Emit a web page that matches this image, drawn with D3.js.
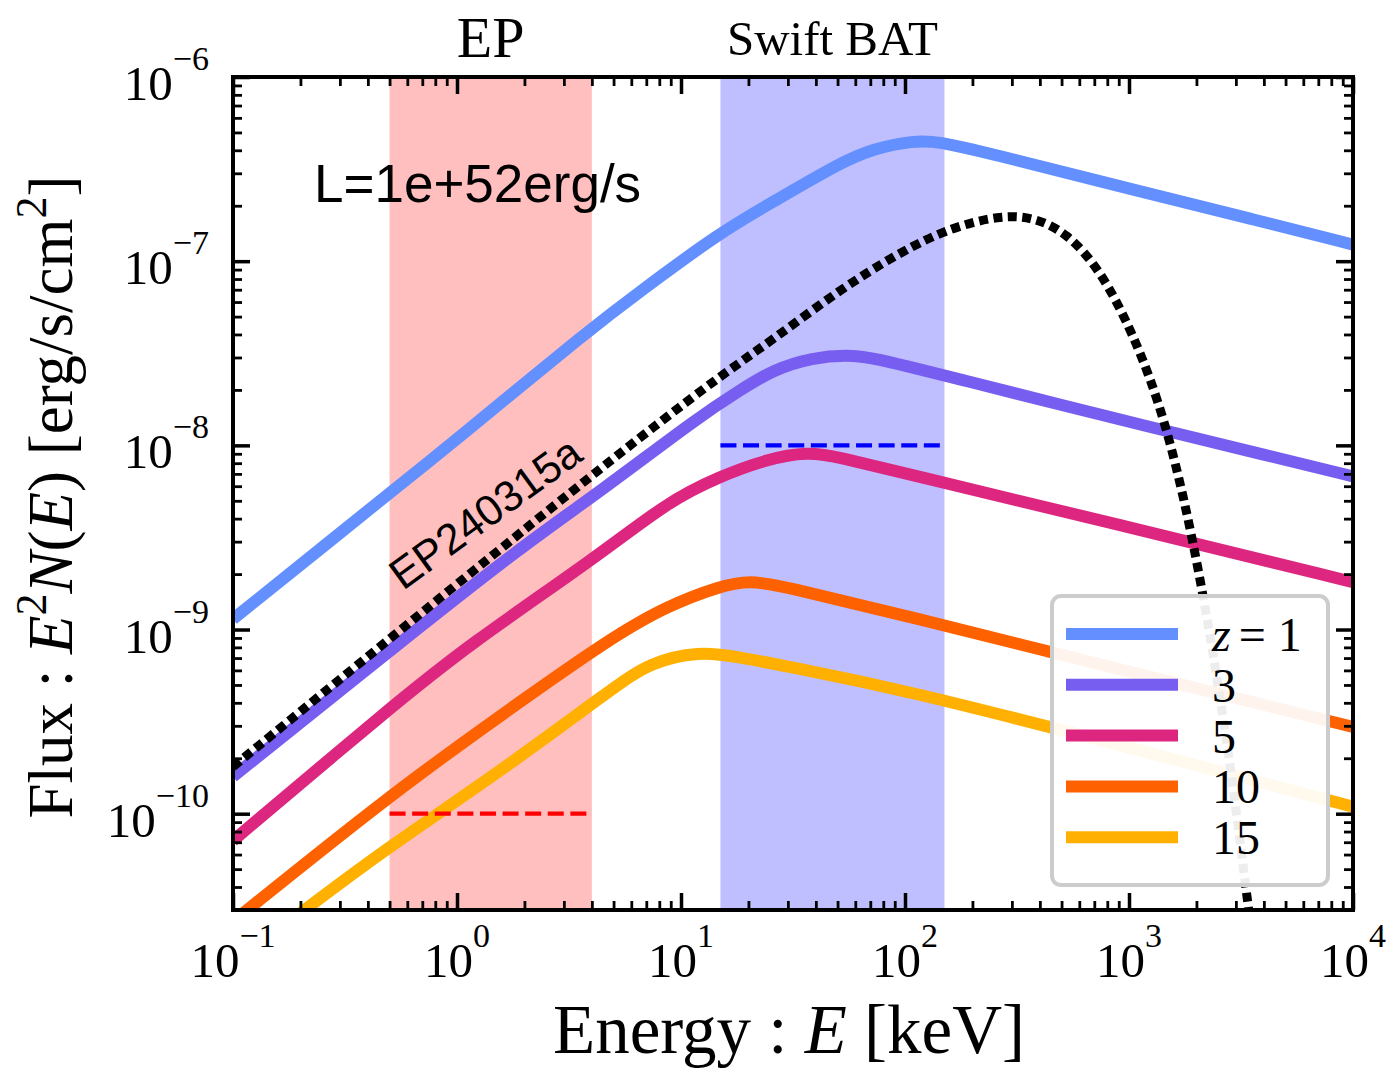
<!DOCTYPE html>
<html><head><meta charset="utf-8">
<script src="https://cdn.jsdelivr.net/npm/d3@7"></script>
<style>body{margin:0;background:#fff} svg text{white-space:pre}</style>
</head><body><svg id="chart" width="1386" height="1072"></svg>
<script>
// ---- data ----
const xTickValues = [1e-1, 1e0, 1e1, 1e2, 1e3, 1e4];
const xTickExps   = ["\u22121", "0", "1", "2", "3", "4"];
const yTickValues = [1e-10, 1e-9, 1e-8, 1e-7, 1e-6];
const yTickExps   = ["\u221210", "\u22129", "\u22128", "\u22127", "\u22126"];
const redshiftLabels = ["1", "3", "5", "10", "15"];
const epBand  = [0.5, 4];      // keV
const batBand = [15, 150];     // keV
const epLimit  = 1e-10;
const batLimit = 1e-8;

// [E (keV), E^2 N(E) (erg/s/cm^2)]
const specZ1 = [[0.1,1.14e-9],[0.5,5.5e-9],[1.0,1.08e-8],[4.01,4.36e-8],[6.56,6.84e-8],[14.9,1.43e-7],[25.8,2.10e-7],
  [51.3,3.42e-7],[71.9,4.07e-7],[109,4.52e-7],[143,4.45e-7],[216,3.97e-7],[1240,2.32e-7],[3500,1.7e-7],[1e4,1.23e-7]];
const specZ3 = [[0.1,1.59e-10],[0.557,8.5e-10],[2.0,2.9e-9],[4.35,5.6e-9],[12.2,1.45e-8],[18.5,2.0e-8],[25.8,2.58e-8],
  [38.8,3.00e-8],[55.1,3.10e-8],[71.9,3.00e-8],[143,2.43e-8],[1479,1.19e-8],[4000,8.9e-9],[1e4,6.79e-9]];
const specZ5 = [[0.1,7.14e-11],[0.497,3.71e-10],[1.11,8.15e-10],[4.35,2.55e-9],[8.66,4.91e-9],[14.9,6.79e-9],
  [24.2,8.40e-9],[36.6,9.25e-9],[51.3,8.61e-9],[95.1,7.14e-9],[1000,3.6e-9],[1e4,1.81e-9]];
const specZ10 = [[0.1,2.6e-11],[0.497,1.25e-10],[1.556,3.40e-10],[4.92,9.1e-10],[8.66,1.34e-9],[14.9,1.72e-9],
  [20.3,1.85e-9],[28.5,1.72e-9],[95.1,1.21e-9],[1000,5.9e-10],[1e4,2.96e-10]];
const specZ15 = [[0.1,1.52e-11],[0.218,3.13e-11],[0.497,6.62e-11],[1.556,1.69e-10],[4.92,4.76e-10],[7.28,6.67e-10],
  [12.2,7.6e-10],[17.1,7.18e-10],[34.0,6.11e-10],[95.1,4.76e-10],[1000,2.3e-10],[1e4,1.09e-10]];
const specEP = [[0.1,1.80e-10],[0.557,9.93e-10],[3.93,6.79e-9],[7.82,1.30e-8],[14.9,2.37e-8],[25.8,3.76e-8],
  [51.3,7.02e-8],[95.1,1.12e-7],[159,1.52e-7],[265,1.77e-7],[372,1.74e-7],[528,1.43e-7],[743,8.99e-8],
  [1042,4.09e-8],[1479,1.33e-8],[2075,2.10e-9],[2825,1.99e-10],[3365,3.46e-11],[3540,2.24e-11]];

// ---- layout ----
const svg = d3.select("#chart");
const X0 = 233, X1 = 1353, Y0 = 77, Y1 = 910;
const x = d3.scaleLog().domain([0.1, 1e4]).range([X0, X1]);
const y = d3.scaleLog().domain([3e-11, 1e-6]).range([Y1, Y0]);
const serif = "'Liberation Serif','Times New Roman',serif";
const sans = "'Liberation Sans',Arial,sans-serif";

svg.append("defs").append("clipPath").attr("id","clip")
  .append("rect").attr("x",X0).attr("y",Y0).attr("width",X1-X0).attr("height",Y1-Y0);
const plot = svg.append("g").attr("clip-path","url(#clip)");

// bands
plot.append("rect").attr("x",x(epBand[0])).attr("width",x(epBand[1])-x(epBand[0]))
  .attr("y",Y0).attr("height",Y1-Y0).attr("fill","#ffbfbf");
plot.append("rect").attr("x",x(batBand[0])).attr("width",x(batBand[1])-x(batBand[0]))
  .attr("y",Y0).attr("height",Y1-Y0).attr("fill","#bfbfff");

// curves
const line = d3.line().x(d=>x(d[0])).y(d=>y(d[1])).curve(d3.curveBasis);
const series = [specZ1, specZ3, specZ5, specZ10, specZ15];
const colors = ["#648FFF","#785EF0","#DC267F","#FE6100","#FFB000"];
series.forEach((s,i)=>{
  plot.append("path").datum(s).attr("d",line).attr("fill","none")
    .attr("stroke",colors[i]).attr("stroke-width",12).attr("stroke-linejoin","round");
});
// limits
plot.append("line").attr("x1",x(epBand[0])).attr("x2",x(epBand[1])).attr("y1",y(epLimit)).attr("y2",y(epLimit))
  .attr("stroke","#ff0000").attr("stroke-width",4.3).attr("stroke-dasharray","16 6.6");
plot.append("line").attr("x1",x(batBand[0])).attr("x2",x(batBand[1])).attr("y1",y(batLimit)).attr("y2",y(batLimit))
  .attr("stroke","#0000ff").attr("stroke-width",4.3).attr("stroke-dasharray","16 6.6");
// EP240315a
plot.append("path").datum(specEP).attr("d",line).attr("fill","none")
  .attr("stroke","#000").attr("stroke-width",9).attr("stroke-dasharray","9 5.5");

// ticks (inward on all sides)
function minors(lo, hi){ const out=[]; for(let k=-12;k<=5;k++){ for(let m=2;m<=9;m++){ const v=m*Math.pow(10,k); if(v>=lo*0.999&&v<=hi*1.001) out.push(v);} } return out; }
const xMinor = minors(0.1,1e4), yMinor = minors(3e-11,1e-6);
function tickAxis(axisFn, scale, vals, size, tr){
  const g = svg.append("g").attr("transform",tr)
    .call(axisFn(scale).tickValues(vals).tickSize(-size).tickFormat(""));
  g.select(".domain").remove();
  return g;
}
const majW = 3.5, minW = 2.8;
[[d3.axisBottom,x,`translate(0,${Y1})`],[d3.axisTop,x,`translate(0,${Y0})`]].forEach(([f,s,t])=>{
  tickAxis(f,s,xTickValues,17,t).selectAll("line").attr("stroke","#000").attr("stroke-width",majW);
  tickAxis(f,s,xMinor,9,t).selectAll("line").attr("stroke","#000").attr("stroke-width",minW);
});
[[d3.axisLeft,y,`translate(${X0},0)`],[d3.axisRight,y,`translate(${X1},0)`]].forEach(([f,s,t])=>{
  tickAxis(f,s,yTickValues,17,t).selectAll("line").attr("stroke","#000").attr("stroke-width",majW);
  tickAxis(f,s,yMinor,9,t).selectAll("line").attr("stroke","#000").attr("stroke-width",minW);
});
svg.append("rect").attr("x",X0).attr("y",Y0).attr("width",X1-X0).attr("height",Y1-Y0)
  .attr("fill","none").attr("stroke","#000").attr("stroke-width",4);

// tick labels
xTickValues.forEach((v,i)=>{
  const t = svg.append("text").attr("x",x(v)).attr("y",977).attr("text-anchor","middle")
    .attr("font-family",serif).attr("font-size",49);
  t.append("tspan").text("10");
  t.append("tspan").attr("dy",-30).attr("font-size",34).text(xTickExps[i]);
});
yTickValues.forEach((v,i)=>{
  const t = svg.append("text").attr("x",209).attr("y",y(v)+23).attr("text-anchor","end")
    .attr("font-family",serif).attr("font-size",49);
  t.append("tspan").text("10");
  t.append("tspan").attr("dy",-30).attr("font-size",34).text(yTickExps[i]);
});

// axis labels
const xl = svg.append("text").attr("x",789).attr("y",1053).attr("text-anchor","middle")
  .attr("font-family",serif).attr("font-size",69);
xl.append("tspan").text("Energy : ");
xl.append("tspan").attr("font-style","italic").text("E");
xl.append("tspan").text(" [keV]");

const yl = svg.append("text").attr("transform","translate(72,497) rotate(-90)").attr("text-anchor","middle")
  .attr("font-family",serif).attr("font-size",63);
yl.append("tspan").text("Flux : ");
yl.append("tspan").attr("font-style","italic").text("E");
yl.append("tspan").attr("font-size",44).attr("dy",-26).text("2");
yl.append("tspan").attr("font-style","italic").attr("dy",26).text("N");
yl.append("tspan").text("(");
yl.append("tspan").attr("font-style","italic").text("E");
yl.append("tspan").text(") [erg/s/cm");
yl.append("tspan").attr("font-size",44).attr("dy",-26).text("2");
yl.append("tspan").attr("dy",26).text("]");

// band titles
svg.append("text").attr("x",x(Math.sqrt(epBand[0]*epBand[1]))).attr("y",57).attr("text-anchor","middle")
  .attr("font-family",serif).attr("font-size",58).text("EP");
svg.append("text").attr("x",x(Math.sqrt(batBand[0]*batBand[1]))).attr("y",55).attr("text-anchor","middle")
  .attr("font-family",serif).attr("font-size",49).text("Swift BAT");

// annotations
svg.append("text").attr("x",314).attr("y",202).attr("font-family",sans).attr("font-size",53).text("L=1e+52erg/s");
svg.append("text").attr("transform","translate(403,591) rotate(-36)").attr("font-family",sans)
  .attr("font-size",43).text("EP240315a");

// legend
const lg = svg.append("g");
lg.append("rect").attr("x",1052).attr("y",596).attr("width",276).attr("height",289).attr("rx",9)
  .attr("fill","#fff").attr("fill-opacity",0.93).attr("stroke","#cccccc").attr("stroke-width",4);
redshiftLabels.forEach((lab,i)=>{
  const yy = 634 + i*50.8;
  lg.append("line").attr("x1",1066).attr("x2",1178).attr("y1",yy).attr("y2",yy)
    .attr("stroke",colors[i]).attr("stroke-width",12);
  const t = lg.append("text").attr("x",1212).attr("y",yy+17).attr("font-family",serif).attr("font-size",48);
  if(i===0){
    t.append("tspan").attr("font-style","italic").text("z");
    t.append("tspan").attr("dx",8).text("=");
    t.append("tspan").attr("dx",12).text(lab);
  } else t.text(lab);
});
</script></body></html>
